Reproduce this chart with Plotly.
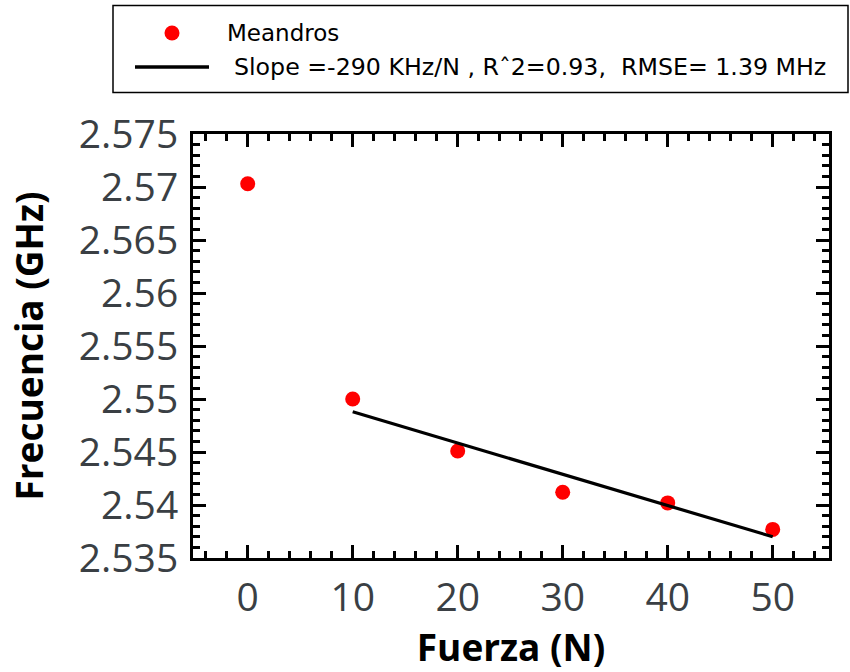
import plotly.graph_objects as go

force = [0, 10, 20, 30, 40, 50]
freq = [2.5703, 2.5500, 2.5451, 2.5412, 2.5402, 2.5377]
fit_x = [10, 50]
fit_y = [2.5488, 2.5370]
series_name = "Meandros"
fit_name = "Slope =-290 KHz/N , R\u02c62=0.93,  RMSE= 1.39 MHz"
x_ticks = [0, 10, 20, 30, 40, 50]
y_ticks = [2.535, 2.54, 2.545, 2.55, 2.555, 2.56, 2.565, 2.57, 2.575]
y_ticktext = ["2.535", "2.54", "2.545", "2.55", "2.555", "2.56", "2.565", "2.57", "2.575"]

FONT = "Open Sans"
LEG_FONT = "DejaVu Sans"
W, H = 850, 672
ML, MR, MT, MB = 193, 21, 134, 114
PW, PH = W - ML - MR, H - MT - MB


def px_x(px):
    return (px - ML) / PW


def px_y(py):
    return (H - MB - py) / PH


fig = go.Figure()
fig.add_trace(go.Scatter(x=force, y=freq, mode="markers", name=series_name,
                         marker=dict(color="#ff0000", size=15), showlegend=False))
fig.add_trace(go.Scatter(x=fit_x, y=fit_y, mode="lines", name=fit_name,
                         line=dict(color="black", width=3.2), showlegend=False))

axis_common = dict(showline=True, linecolor="black", linewidth=3, mirror="allticks",
                   ticks="inside", ticklen=13, tickwidth=3, tickcolor="black",
                   showgrid=False, zeroline=False,
                   tickfont=dict(family=FONT, size=39, color="#3a3f44"))
fig.update_xaxes(range=[-5.21, 55.36], tickvals=x_ticks, ticklabelstandoff=3,
                 minor=dict(ticks="inside", dtick=2, tick0=0, ticklen=7, tickwidth=3, tickcolor="black"),
                 title=dict(text="<b>Fuerza (N)</b>", font=dict(family=FONT, size=37, color="black"), standoff=5),
                 **axis_common)
fig.update_yaxes(range=[2.535, 2.575], tickvals=y_ticks, ticktext=y_ticktext, ticklabelstandoff=4,
                 minor=dict(ticks="inside", dtick=0.001, tick0=2.535, ticklen=7, tickwidth=3, tickcolor="black"),
                 title=dict(text="<b>Frecuencia (GHz)</b>", font=dict(family=FONT, size=37, color="black"), standoff=24),
                 **axis_common)

# manual legend box
shapes = [
    dict(type="rect", xref="paper", yref="paper", x0=px_x(113), x1=px_x(848), y0=px_y(92.5), y1=px_y(5.5),
         line=dict(color="black", width=1.5), fillcolor="white", layer="above"),
    dict(type="circle", xref="paper", yref="paper", x0=px_x(164.5), x1=px_x(179.5), y0=px_y(40.5), y1=px_y(25.5),
         line=dict(color="#ff0000", width=0), fillcolor="#ff0000", layer="above"),
    dict(type="line", xref="paper", yref="paper", x0=px_x(135), x1=px_x(209), y0=px_y(67), y1=px_y(67),
         line=dict(color="black", width=3.5), layer="above"),
]
annotations = [
    dict(text=series_name, xref="paper", yref="paper", x=px_x(225), y=px_y(33), xanchor="left", yanchor="middle",
         showarrow=False, font=dict(family=LEG_FONT, size=23, color="black")),
    dict(text=fit_name, xref="paper", yref="paper", x=px_x(232), y=px_y(67), xanchor="left", yanchor="middle",
         showarrow=False, font=dict(family=LEG_FONT, size=23.7, color="black")),
]

fig.update_layout(
    width=W, height=H,
    margin=dict(l=ML, r=MR, t=MT, b=MB),
    plot_bgcolor="white", paper_bgcolor="white",
    font=dict(family=FONT),
    showlegend=False,
    shapes=shapes,
    annotations=annotations,
)
fig.write_html("out.html")
